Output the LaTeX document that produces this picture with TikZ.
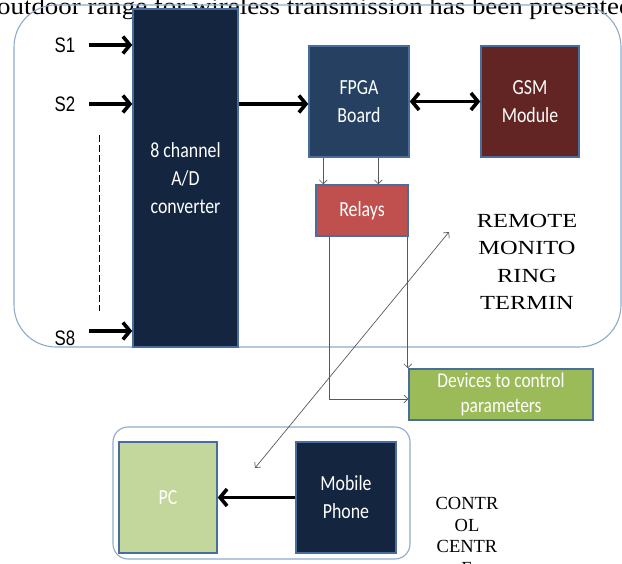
\documentclass[tikz,border=0pt]{standalone}
\usepackage{fontspec}
\setmainfont{Liberation Serif}
\newfontfamily\capfont[FakeStretch=1.12]{Liberation Serif}
\newfontfamily\remfont[FakeStretch=1.22]{Liberation Serif}
\newfontfamily\boxfont[FakeStretch=0.83]{Carlito}
\newfontfamily\sigfont[FakeStretch=0.8]{Liberation Sans}
\usetikzlibrary{calc, positioning, arrows.meta}

\definecolor{navy}{HTML}{13253F}
\definecolor{fpgablue}{HTML}{254061}
\definecolor{gsmred}{HTML}{632523}
\definecolor{relayred}{HTML}{C0504D}
\definecolor{devgreen}{HTML}{9BBB59}
\definecolor{pcgreen}{HTML}{C3D69B}
\definecolor{boxedge}{HTML}{4A6E9C}
\definecolor{frame}{HTML}{8FAACB}

\begin{document}
\begin{tikzpicture}[x=1pt, y=-1pt,
  blk/.style={draw=boxedge, line width=1.5pt, inner sep=0pt, text=white,
    align=center, font=\boxfont\fontsize{21.5}{28}\selectfont},
  sig/.style={font=\sigfont\fontsize{21}{24}\selectfont, inner sep=0pt},
  fat/.style={line width=3.6pt, -{Straight Barb[length=7pt, width=17pt]}},
  thin/.style={black!65, line width=0.7pt, -{Straight Barb[length=4pt, width=8pt]}},
  frm/.style={draw=frame, line width=1.1pt}]
\useasboundingbox (0,0) rectangle (622,564);
\clip (0,0) rectangle (622,564);

% caption line above the figure
\node[anchor=base west, inner sep=0pt, font=\capfont\fontsize{24}{26}\selectfont] (cap) at (-3,15)
  {outdoor range for wireless transmission has been presented};

% remote monitoring terminal
\draw[frm, rounded corners=42pt] (14,5) rectangle (621,347);

\node[blk, fill=navy, minimum width=105pt, minimum height=338pt] (ad) at (185.5,178)
  {8 channel\\A/D\\converter};
\node[blk, fill=fpgablue, minimum width=100pt, minimum height=111pt] (fpga) at (359,101.5)
  {FPGA\\Board};
\node[blk, fill=gsmred, minimum width=98pt, minimum height=111pt] (gsm) at (530,101.5)
  {GSM\\Module};
\node[blk, fill=relayred, minimum width=92pt, minimum height=51pt] (relays) at (362,210.5)
  {Relays};
\node[blk, fill=devgreen, minimum width=184pt, minimum height=51pt,
  font=\boxfont\fontsize{21}{25}\selectfont] (devices) at (501,394.5)
  {Devices to control\\parameters};

\node[sig] (s1) at (65,45) {S1};
\node[sig] (s2) at (65,104) {S2};
\node[sig] (s8) at (65,338) {S8};
\draw[fat, shorten <=14pt] (s1.east) -- (s1 -| ad.west);
\draw[fat, shorten <=14pt] (s2.east) -- (s2 -| ad.west);
\draw[fat, shorten <=14pt] ($(s8.east)+(0,-7)$) -- ($(s8 -| ad.west)+(0,-7)$);
\coordinate (dtop) at (99,135);
\coordinate (dbot) at (99,311);
\draw[dash pattern=on 7pt off 3pt, line width=0.6pt] (dtop) -- (dbot);

\draw[fat] (ad.east |- s2) -- (fpga.west |- s2);
\draw[line width=3.6pt, {Straight Barb[length=7pt, width=17pt]}-{Straight Barb[length=7pt, width=17pt]}]
  (fpga.east) -- (gsm.west);

\draw[thin] ($(fpga.south west)+(15,0)$) -- ($(relays.north west)+(8,0)$);
\draw[thin] ($(fpga.south west)+(70,0)$) -- ($(relays.north west)+(63,0)$);

\node[align=center, font=\remfont\fontsize{20}{27.5}\selectfont] (remote) at (527,262)
  {REMOTE\\MONITO\\RING\\TERMIN};

\coordinate (rl) at ($(relays.south west)+(14,0)$);
\coordinate (rr) at ($(relays.south east)+(-1,0)$);
\coordinate (bend) at (rl |- 0,399);
\draw[thin] (rl) -- (bend) -- (bend -| devices.west);
\draw[thin] (rr) -- (rr |- devices.north);

% control centre
\draw[frm, rounded corners=15pt] (113,427) rectangle (410,559);
\node[blk, fill=pcgreen, minimum width=98pt, minimum height=111pt] (pc) at (168,497.5) {PC};
\node[blk, fill=navy, minimum width=100pt, minimum height=111pt] (mobile) at (346,497.5)
  {Mobile\\Phone};
\draw[fat] (mobile.west) -- (pc.east);

\node[align=center, font=\fontsize{18.5}{21.5}\selectfont] (ctrl) at (467,536)
  {CONTR\\OL\\CENTR\\E};

\coordinate (remtip) at (449,232);
\coordinate (cctip) at (255,468);
\draw[thin, {Straight Barb[length=4pt, width=8pt]}-{Straight Barb[length=4pt, width=8pt]}]
  (cctip) -- (remtip);
\end{tikzpicture}
\end{document}
